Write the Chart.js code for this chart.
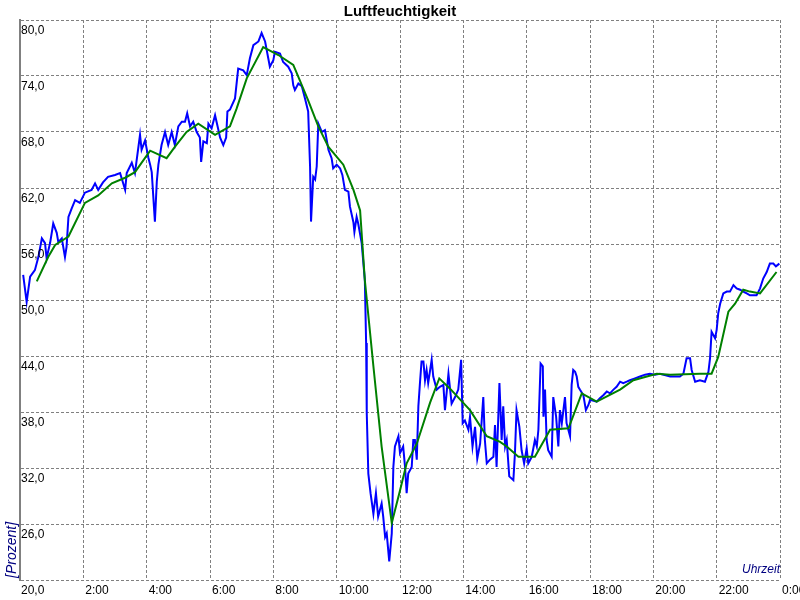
<!DOCTYPE html>
<html>
<head>
<meta charset="utf-8">
<title>Luftfeuchtigkeit</title>
<script src="https://cdn.jsdelivr.net/npm/chart.js@4.4.1/dist/chart.umd.min.js"></script>
<style>
  body { margin: 0; background: #fff; }
  #wrap { width: 800px; height: 600px; position: relative; }
</style>
</head>
<body>
<div id="wrap"><canvas id="chart"></canvas></div>
<script>
// Messwerte (Stunden seit 0:00, Prozent)
const rawTime = [0.10, 0.21, 0.32, 0.47, 0.58, 0.69, 0.79, 0.84, 0.95, 1.05, 1.16, 1.21, 1.32, 1.42, 1.47, 1.53, 1.63, 1.74, 1.89, 2.05,
  2.26, 2.37, 2.47, 2.62, 2.78, 3.00, 3.16, 3.32, 3.37, 3.53, 3.63, 3.79, 3.84, 3.95, 4.05, 4.11, 4.16, 4.26, 4.32, 4.37,
  4.47, 4.58, 4.68, 4.79, 4.89, 5.00, 5.11, 5.21, 5.28, 5.37, 5.47, 5.58, 5.68, 5.72, 5.79, 5.90, 5.95, 6.05, 6.16, 6.23,
  6.32, 6.42, 6.51, 6.55, 6.63, 6.79, 6.89, 7.05, 7.16, 7.26, 7.37, 7.53, 7.63, 7.74, 7.84, 7.89, 8.00, 8.05, 8.21, 8.31,
  8.47, 8.58, 8.63, 8.68, 8.79, 8.90, 9.00, 9.10, 9.16, 9.19, 9.26, 9.32, 9.37, 9.42, 9.53, 9.63, 9.74, 9.84, 9.89, 10.00,
  10.11, 10.18, 10.26, 10.37, 10.42, 10.53, 10.56, 10.63, 10.68, 10.79, 10.89, 10.93, 10.95, 11.00, 11.07, 11.16, 11.24, 11.31, 11.42, 11.47,
  11.53, 11.58, 11.66, 11.74, 11.79, 11.84, 11.95, 12.00, 12.10, 12.16, 12.21, 12.26, 12.37, 12.42, 12.47, 12.53, 12.58, 12.63, 12.68, 12.74,
  12.79, 12.84, 12.89, 13.00, 13.05, 13.16, 13.26, 13.37, 13.42, 13.53, 13.63, 13.74, 13.84, 13.93, 13.98, 14.05, 14.16, 14.21, 14.29, 14.37,
  14.44, 14.53, 14.63, 14.68, 14.74, 14.84, 14.95, 15.00, 15.05, 15.14, 15.21, 15.26, 15.32, 15.37, 15.45, 15.58, 15.63, 15.68, 15.77, 15.84,
  15.92, 16.00, 16.05, 16.16, 16.26, 16.32, 16.37, 16.44, 16.51, 16.53, 16.58, 16.63, 16.68, 16.79, 16.84, 16.93, 17.00, 17.05, 17.11, 17.21,
  17.26, 17.37, 17.42, 17.47, 17.53, 17.58, 17.63, 17.68, 17.79, 17.87, 17.95, 18.00, 18.21, 18.32, 18.42, 18.53, 18.63, 18.74, 18.84, 18.95,
  19.05, 19.16, 19.26, 19.42, 19.58, 19.74, 19.89, 20.05, 20.21, 20.53, 20.84, 20.95, 21.05, 21.16, 21.21, 21.32, 21.47, 21.63, 21.74, 21.79,
  21.84, 21.95, 22.00, 22.05, 22.11, 22.21, 22.32, 22.42, 22.53, 22.63, 22.74, 22.84, 22.95, 23.05, 23.26, 23.37, 23.47, 23.58, 23.68, 23.79,
  23.87, 23.98];
const rawHumidity = [52.7, 49.8, 52.5, 53.2, 54.6, 56.6, 56.1, 54.5, 56.1, 58.2, 57.2, 56.2, 56.6, 54.6, 55.7, 58.9, 59.8, 60.7, 60.4, 61.5,
  61.8, 62.5, 61.8, 62.6, 63.2, 63.4, 63.6, 61.8, 63.6, 64.7, 63.6, 67.7, 66.1, 67.1, 65.3, 64.5, 63.7, 58.4, 62.7, 64.5,
  66.6, 68.0, 66.6, 68.0, 66.6, 68.6, 69.1, 69.1, 70.0, 68.6, 69.1, 68.0, 67.4, 64.8, 67.0, 66.8, 68.9, 68.4, 69.8, 68.75,
  67.4, 66.6, 67.4, 70.2, 70.4, 71.6, 74.8, 74.6, 74.1, 75.9, 77.3, 77.7, 78.6, 77.7, 75.9, 75.0, 75.7, 76.6, 76.4, 75.5,
  75.0, 74.3, 73.0, 72.5, 73.2, 72.9, 71.6, 70.2, 64.3, 58.4, 63.2, 62.9, 64.3, 68.9, 68.0, 68.2, 66.1, 65.2, 64.1, 64.5,
  64.1, 63.4, 61.8, 61.6, 60.0, 58.3, 57.3, 58.9, 58.2, 56.1, 52.1, 45.4, 37.9, 31.4, 29.3, 27.1, 29.3, 26.8, 28.2, 26.8,
  24.6, 25.0, 22.0, 25.0, 32.1, 34.3, 35.4, 33.6, 34.3, 32.1, 29.3, 31.4, 32.1, 35.0, 35.0, 32.9, 38.6, 41.1, 43.4, 43.4,
  41.4, 42.5, 41.1, 43.6, 41.8, 40.4, 40.7, 40.9, 38.2, 42.1, 38.9, 39.6, 40.4, 43.6, 36.8, 37.1, 36.1, 37.5, 34.3, 36.4,
  33.0, 34.6, 39.6, 35.0, 32.5, 32.9, 33.2, 36.6, 32.1, 41.1, 35.0, 38.6, 34.3, 35.0, 31.1, 30.7, 33.6, 38.2, 36.4, 33.9,
  32.5, 34.1, 32.5, 33.2, 35.0, 34.3, 36.1, 43.2, 42.9, 37.5, 40.4, 35.0, 33.9, 33.2, 39.6, 37.5, 34.3, 38.2, 36.8, 39.6,
  36.8, 35.4, 40.9, 42.5, 42.3, 41.8, 40.7, 40.4, 39.8, 38.2, 38.75, 39.3, 39.1, 39.5, 39.8, 40.2, 40.0, 40.4, 40.7, 41.25,
  41.1, 41.25, 41.4, 41.6, 41.8, 42.0, 42.1, 42.0, 42.1, 41.8, 41.8, 42.1, 43.75, 43.75, 42.5, 41.25, 41.4, 41.25, 42.3, 43.75,
  46.6, 45.9, 46.8, 48.6, 49.6, 50.7, 50.9, 50.9, 51.6, 51.25, 51.1, 50.9, 50.7, 50.5, 50.5, 51.25, 52.3, 53.0, 53.9, 53.9,
  53.6, 53.9];

// gleitender Mittelwert
const avgTime = [0.53, 0.89, 1.11, 1.53, 2.05, 2.47, 2.90, 3.32, 3.63, 4.11, 4.63, 4.89, 5.26, 5.63, 6.16, 6.63, 6.84, 7.16, 7.68, 8.16,
  8.63, 8.79, 9.10, 9.42, 9.74, 10.21, 10.53, 10.74, 10.89, 11.16, 11.42, 11.74, 12.00, 12.21, 12.53, 12.95, 13.24, 13.58, 14.21, 14.74,
  15.16, 15.37, 15.74, 16.26, 16.74, 17.32, 17.74, 18.21, 18.95, 19.37, 20.11, 20.53, 21.47, 21.84, 22.05, 22.37, 22.58, 22.84, 23.05, 23.37,
  23.89];
const avgHumidity = [52.0, 54.6, 55.9, 56.8, 60.4, 61.2, 62.5, 63.1, 63.7, 66.0, 65.2, 66.4, 68.0, 68.9, 67.7, 68.6, 70.5, 73.75, 77.1, 76.25,
  75.2, 73.9, 71.4, 68.6, 66.4, 64.5, 61.8, 59.6, 52.1, 42.9, 34.3, 26.1, 29.6, 32.5, 34.6, 39.0, 41.6, 40.5, 38.2, 35.4,
  34.8, 34.3, 33.2, 33.2, 36.1, 36.25, 40.0, 39.1, 40.4, 41.4, 42.1, 42.0, 42.1, 42.1, 43.9, 48.75, 49.6, 51.1, 50.9, 50.7,
  53.0];

// Achsen
const yTicks = [20, 26, 32, 38, 44, 50, 56, 62, 68, 74, 80];
const xTicks = [0, 2, 4, 6, 8, 10, 12, 14, 16, 18, 20, 22, 24];
const xTickLabels = ['', '2:00', '4:00', '6:00', '8:00', '10:00', '12:00', '14:00', '16:00', '18:00', '20:00', '22:00', '0:00'];

const labelFont = '12px "Liberation Sans", Arial, sans-serif';

const textPlugin = {
  id: 'texts',
  afterDraw(chart) {
    const ctx = chart.ctx;
    const xs = chart.scales.x;
    const ys = chart.scales.y;
    const area = chart.chartArea;
    ctx.save();

    // Titel
    ctx.fillStyle = '#000';
    ctx.font = 'bold 15px "Liberation Sans", Arial, sans-serif';
    ctx.textAlign = 'center';
    ctx.textBaseline = 'alphabetic';
    ctx.fillText('Luftfeuchtigkeit', (area.left + area.right) / 2, 16);

    // y-Beschriftung unter der Gitterlinie
    ctx.font = labelFont;
    ctx.textAlign = 'left';
    yTicks.forEach(v => {
      const label = v + ',0';
      if (v === yTicks[0]) {
        ctx.fillText(label, area.left + 1, area.bottom + 14);
      } else {
        ctx.fillText(label, area.left + 1, ys.getPixelForValue(v) + 14);
      }
    });

    // x-Beschriftung
    xTicks.forEach((v, i) => {
      if (!xTickLabels[i]) return;
      ctx.fillText(xTickLabels[i], xs.getPixelForValue(v) + 2, area.bottom + 14);
    });

    // Achsentitel
    ctx.fillStyle = '#000080';
    ctx.font = 'italic 12px "Liberation Sans", Arial, sans-serif';
    ctx.textAlign = 'right';
    ctx.fillText('Uhrzeit', area.right, area.bottom - 7);

    ctx.font = 'italic 14px "Liberation Sans", Arial, sans-serif';
    ctx.translate(area.left - 4, area.bottom - 2);
    ctx.rotate(-Math.PI / 2);
    ctx.textAlign = 'left';
    ctx.fillText('[Prozent]', 0, 0);
    ctx.restore();
  }
};

const ctx = document.getElementById('chart').getContext('2d');
new Chart(ctx, {
  type: 'line',
  data: {
    datasets: [
      {
        label: 'Mittelwert',
        data: avgTime.map((t, i) => ({ x: t, y: avgHumidity[i] })),
        borderColor: '#008000',
        borderWidth: 2,
        pointRadius: 0,
        tension: 0,
        fill: false
      },
      {
        label: 'Luftfeuchtigkeit',
        data: rawTime.map((t, i) => ({ x: t, y: rawHumidity[i] })),
        borderColor: '#0000ff',
        borderWidth: 2,
        pointRadius: 0,
        tension: 0,
        fill: false
      }
    ]
  },
  options: {
    responsive: true,
    maintainAspectRatio: false,
    animation: false,
    devicePixelRatio: 1,
    layout: { padding: { left: 20, top: 20, right: 20, bottom: 20 } },
    plugins: {
      legend: { display: false },
      tooltip: { enabled: false },
      title: { display: false }
    },
    scales: {
      x: {
        type: 'linear',
        min: 0,
        max: 24,
        afterBuildTicks: axis => { axis.ticks = xTicks.map(v => ({ value: v })); },
        ticks: { display: false },
        grid: { color: '#808080', lineWidth: 1, drawTicks: false, tickBorderDash: [3, 2] },
        border: { display: false, dash: [3, 2] }
      },
      y: {
        min: 20,
        max: 80,
        afterBuildTicks: axis => { axis.ticks = yTicks.map(v => ({ value: v })); },
        ticks: { display: false },
        grid: { color: '#808080', lineWidth: 1, drawTicks: false },
        border: { display: true, color: '#808080', width: 2, dash: [3, 2] }
      }
    }
  },
  plugins: [textPlugin]
});
</script>
</body>
</html>
